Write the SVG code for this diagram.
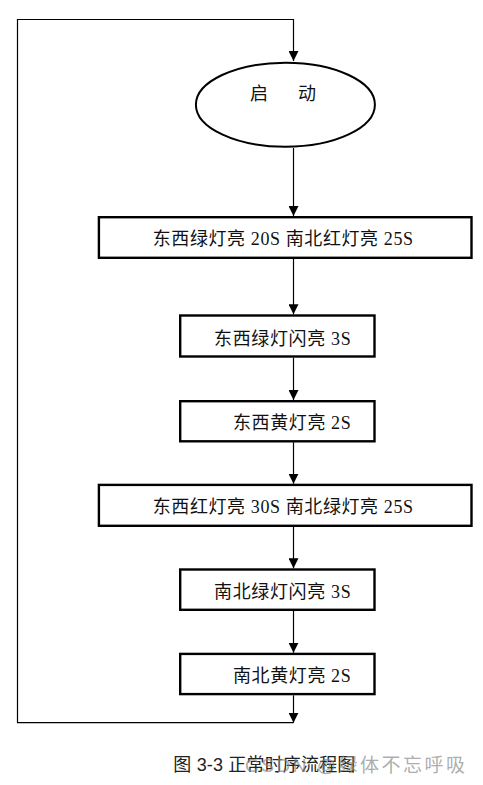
<svg xmlns="http://www.w3.org/2000/svg" width="483" height="785" viewBox="0 0 483 785">
<style>
.box{fill:#fff;stroke:#000;stroke-width:2.4}
.conn{fill:none;stroke:#000;stroke-width:1.2}
.t{font-family:"Liberation Serif","Noto Sans CJK SC",serif;font-size:18px;fill:#111}
.d{font-family:"Liberation Serif",serif}
.cap{font-family:"Liberation Sans","Noto Sans CJK SC",sans-serif;font-size:18px;fill:#222}
.wm{font-family:"Liberation Sans","Noto Sans CJK SC",sans-serif;font-size:19px;fill:#888;fill-opacity:0.7}
</style>
<defs>
<marker id="ah" markerWidth="10" markerHeight="10" refX="10" refY="5" orient="auto" markerUnits="userSpaceOnUse">
<path d="M0,0 L10,5 L0,10 Z" fill="#000"/>
</marker>
</defs>
<rect width="483" height="785" fill="#fff"/>
<g id="connectors">
<path class="conn" d="M293.5,722.7 H17.5 V19.5 H293.5 V61" marker-end="url(#ah)"/>
<path class="conn" d="M293.5,148 V216" marker-end="url(#ah)"/>
<path class="conn" d="M293.5,259 V314.3" marker-end="url(#ah)"/>
<path class="conn" d="M293.5,357.7 V400" marker-end="url(#ah)"/>
<path class="conn" d="M293.5,442.3 V483.7" marker-end="url(#ah)"/>
<path class="conn" d="M293.5,527 V568.3" marker-end="url(#ah)"/>
<path class="conn" d="M293.5,611 V652.7" marker-end="url(#ah)"/>
<path class="conn" d="M293.5,695.3 V722.7" marker-end="url(#ah)"/>
</g>
<g id="start">
<ellipse cx="285.4" cy="104.7" rx="89.5" ry="42" fill="#fff" stroke="#000" stroke-width="2"/>
<text class="t"><tspan x="250" y="100">启</tspan><tspan x="298" y="100">动</tspan></text>
</g>
<g id="n1">
<rect class="box" x="98.9" y="217.2" width="372.6" height="40.6"/>
<text class="t" x="152.7" y="244.5" textLength="260.3">东西绿灯亮 <tspan class="d">20S</tspan> 南北红灯亮 <tspan class="d">25S</tspan></text>
</g>
<g id="n2">
<rect class="box" x="180.2" y="315.5" width="194.3" height="41"/>
<text class="t" x="214" y="344.5" textLength="136.7">东西绿灯闪亮 <tspan class="d">3S</tspan></text>
</g>
<g id="n3">
<rect class="box" x="180.2" y="401.2" width="194.3" height="40.1"/>
<text class="t" x="233" y="429" textLength="117.7">东西黄灯亮 <tspan class="d">2S</tspan></text>
</g>
<g id="n4">
<rect class="box" x="98.9" y="484.9" width="372.6" height="40.9"/>
<text class="t" x="152.7" y="513" textLength="260.3">东西红灯亮 <tspan class="d">30S</tspan> 南北绿灯亮 <tspan class="d">25S</tspan></text>
</g>
<g id="n5">
<rect class="box" x="180.2" y="569.5" width="194.3" height="40.3"/>
<text class="t" x="214" y="598" textLength="136.7">南北绿灯闪亮 <tspan class="d">3S</tspan></text>
</g>
<g id="n6">
<rect class="box" x="180.2" y="653.9" width="194.3" height="40.2"/>
<text class="t" x="233" y="681.5" textLength="117.7">南北黄灯亮 <tspan class="d">2S</tspan></text>
</g>
<g id="caption">
<text class="cap" x="173.3" y="771" textLength="182">图 3-3 正常时序流程图</text>
<text class="wm" x="245" y="772" textLength="220">CSDN @绿体不忘呼吸</text>
</g>
</svg>
